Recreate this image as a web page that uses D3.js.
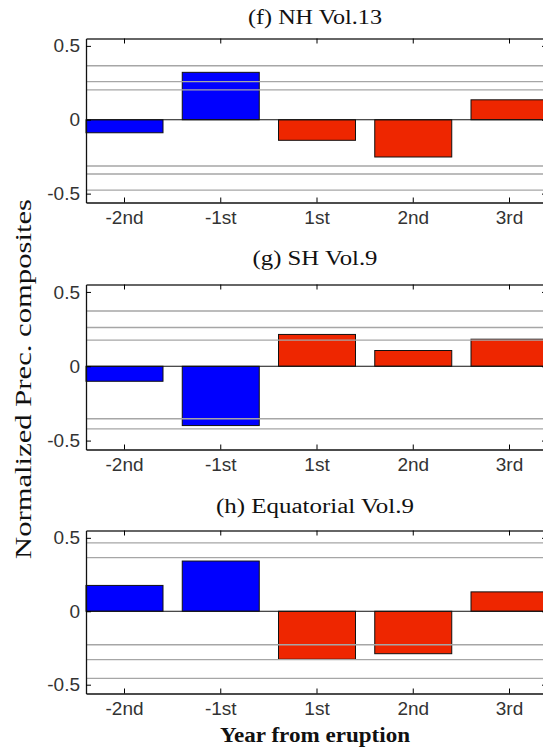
<!DOCTYPE html>
<html>
<head>
<meta charset="utf-8">
<script src="https://cdn.jsdelivr.net/npm/d3@7"></script>
<style>
  body { margin: 0; background: #fff; overflow: hidden; }
  .tick text { font-family: "Liberation Sans", Arial, sans-serif; font-size: 19px; fill: #333; }
  .serif { font-family: "Liberation Serif", "Times New Roman", serif; fill: #111; }
</style>
</head>
<body>
<div id="chart"></div>
<script>
"use strict";

// categories (year relative to eruption)
const years = ["-2nd", "-1st", "1st", "2nd", "3rd"];
const yTicks = [-0.5, 0, 0.5];

// composite values per panel
const nhValues = [-0.088, 0.321, -0.139, -0.252, 0.135];
const shValues = [-0.101, -0.399, 0.214, 0.106, 0.182];
const eqValues = [0.176, 0.342, -0.327, -0.289, 0.132];

// significance levels (gray horizontal lines)
const nhLevels = [0.366, 0.258, 0.202, -0.313, -0.367, -0.476];
const shLevels = [0.372, 0.261, 0.176, -0.353, -0.421];
const eqLevels = [0.466, 0.365, -0.228, -0.329, -0.457];

const titles = ["(f) NH Vol.13", "(g) SH Vol.9", "(h) Equatorial Vol.9"];

const W = 543, H = 749;
const left = 86, right = 548;

const panels = [
  { title: titles[0], values: nhValues, levels: nhLevels, top: 38.5, bottom: 202.5, titleY: 24, titleW: 134 },
  { title: titles[1], values: shValues, levels: shLevels, top: 284.5, bottom: 449.5, titleY: 265, titleW: 125 },
  { title: titles[2], values: eqValues, levels: eqLevels, top: 530.5, bottom: 693.5, titleY: 513, titleW: 198 },
];

const svg = d3.select("#chart").append("svg")
  .attr("width", W)
  .attr("height", H)
  .attr("viewBox", [0, 0, W, H]);

const x = d3.scaleBand()
  .domain(years)
  .range([left, right])
  .paddingInner(0.2)
  .paddingOuter(0);

const fmt = d => (d === 0 ? "0" : String(d));

panels.forEach(function (p, k) {
  const y = d3.scaleLinear().domain([-0.56, 0.55]).range([p.bottom, p.top]);
  const g = svg.append("g").attr("class", "panel");

  // bars
  g.selectAll("rect.bar")
    .data(p.values)
    .join("rect")
    .attr("class", "bar")
    .attr("x", (d, i) => x(years[i]))
    .attr("width", x.bandwidth())
    .attr("y", d => y(Math.max(0, d)))
    .attr("height", d => Math.abs(y(d) - y(0)))
    .attr("fill", (d, i) => (i < 2 ? "#0000ff" : "#ee2600"))
    .attr("stroke", "#111")
    .attr("stroke-width", 1);

  // significance lines, over the bars
  g.selectAll("line.level")
    .data(p.levels)
    .join("line")
    .attr("class", "level")
    .attr("x1", left)
    .attr("x2", right)
    .attr("y1", d => y(d))
    .attr("y2", d => y(d))
    .attr("stroke", "#a6a6a6")
    .attr("stroke-width", 1.4);

  // baseline
  g.append("line")
    .attr("x1", left).attr("x2", right)
    .attr("y1", y(0)).attr("y2", y(0))
    .attr("stroke", "#111").attr("stroke-width", 1);

  // axes, ticks pointing in
  g.append("g")
    .attr("transform", `translate(0,${p.bottom})`)
    .call(d3.axisBottom(x).tickSizeInner(-5).tickSizeOuter(0).tickPadding(8))
    .call(a => a.select(".domain").attr("stroke", "#111").attr("stroke-width", 1.3));

  g.append("g")
    .attr("transform", `translate(0,${p.top})`)
    .call(d3.axisTop(x).tickSizeInner(-5).tickSizeOuter(0).tickFormat(""))
    .call(a => a.select(".domain").attr("stroke", "#333").attr("stroke-width", 1.3));

  g.append("g")
    .attr("transform", `translate(${left},0)`)
    .call(d3.axisLeft(y).tickValues(yTicks).tickFormat(fmt).tickSizeInner(-5).tickSizeOuter(0).tickPadding(6))
    .call(a => a.select(".domain").attr("stroke", "#111").attr("stroke-width", 1.3));

  g.append("g")
    .attr("transform", `translate(${right},0)`)
    .call(d3.axisRight(y).tickValues(yTicks).tickFormat("").tickSizeInner(-6).tickSizeOuter(0))
    .call(a => a.select(".domain").attr("stroke", "#111").attr("stroke-width", 1.3));

  // panel title
  g.append("text")
    .attr("class", "serif")
    .attr("x", 315)
    .attr("y", p.titleY)
    .attr("text-anchor", "middle")
    .attr("font-size", 20)
    .attr("textLength", p.titleW)
    .attr("lengthAdjust", "spacingAndGlyphs")
    .text(p.title);
});

// shared axis labels
svg.append("text")
  .attr("class", "serif")
  .attr("transform", "translate(31,379) rotate(-90)")
  .attr("text-anchor", "middle")
  .attr("font-size", 23)
  .attr("textLength", 360)
  .attr("lengthAdjust", "spacingAndGlyphs")
  .text("Normalized Prec. composites");

svg.append("text")
  .attr("class", "serif")
  .attr("x", 315)
  .attr("y", 742)
  .attr("text-anchor", "middle")
  .attr("font-size", 20)
  .attr("font-weight", "bold")
  .attr("textLength", 190)
  .attr("lengthAdjust", "spacingAndGlyphs")
  .text("Year from eruption");
</script>
</body>
</html>
